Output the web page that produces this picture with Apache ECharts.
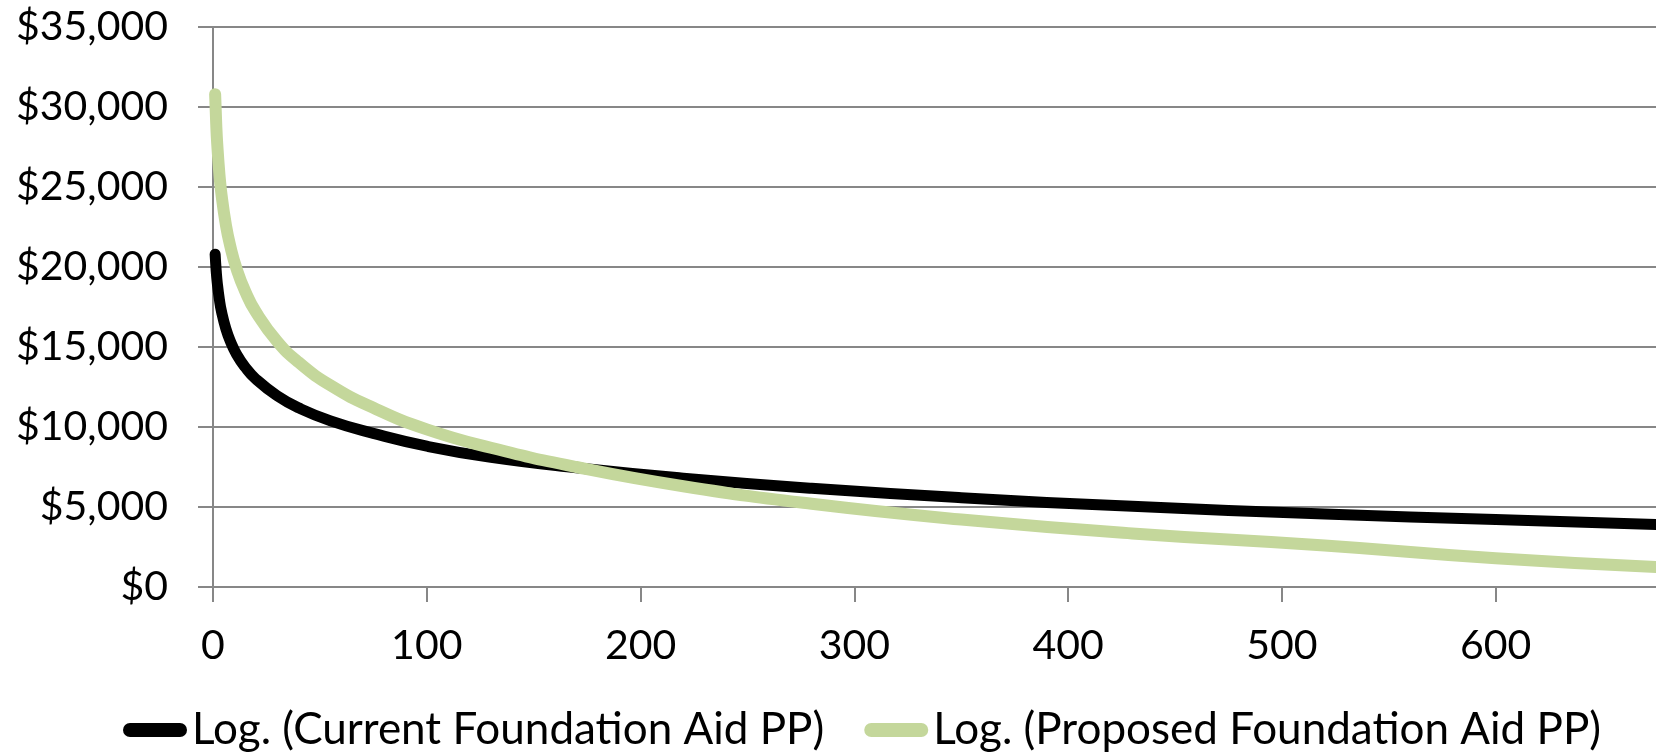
<!DOCTYPE html>
<html>
<head>
<meta charset="utf-8">
<script src="https://cdn.jsdelivr.net/npm/echarts@6/dist/echarts.min.js"></script>
<style>
  html, body { margin: 0; padding: 0; background: #fff; }
  #result { width: 1656px; height: 754px; }
</style>
</head>
<body>
<div id="result"></div>
<script>
// enrollment (x) and per-pupil aid values
var xValues = [1, 1.5, 2, 3, 4, 6, 8, 11, 15, 20, 30, 40, 55, 75, 100, 130, 170, 220, 280, 350, 430, 520, 600, 675];
var currentAid = [20800, 19750, 19000, 17950, 17200, 16150, 15400, 14550, 13750, 13000, 11950, 11200, 10380, 9600, 8800, 8100, 7450, 6800, 6170, 5580, 5040, 4560, 4220, 3900];
var proposedAid = [30800, 28950, 27650, 25800, 24500, 22650, 21350, 19900, 18500, 17200, 15350, 14050, 12600, 11200, 9850, 8700, 7500, 6300, 5200, 4220, 3350, 2600, 1800, 1250];
var seriesNames = ['Log. (Current Foundation Aid PP)', 'Log. (Proposed Foundation Aid PP)'];

function pairs(xs, ys) {
    return xs.map(function (x, i) { return [x, ys[i]]; });
}

var font = 'Lato';
var gray = '#878787';
var pill = 'path://M7,0 L57,0 A7,7 0 0 1 57,14 L7,14 A7,7 0 0 1 7,0 Z';

var myChart = echarts.init(document.getElementById('result'));

myChart.setOption({
    animation: false,
    textStyle: { fontFamily: font },
    grid: {
        left: 213,
        right: 0,
        top: 27,
        bottom: 167
    },
    legend: {
        left: 118,
        top: 703,
        itemWidth: 64,
        itemHeight: 15,
        itemGap: 40,
        textStyle: { fontFamily: font, fontSize: 44, color: '#000' },
        data: [
            { name: seriesNames[0], icon: pill },
            { name: seriesNames[1], icon: pill }
        ]
    },
    xAxis: {
        type: 'value',
        min: 0,
        max: 675,
        interval: 100,
        splitLine: { show: false },
        axisLine: { lineStyle: { color: gray, width: 2 } },
        axisTick: { show: true, length: 15, lineStyle: { color: gray, width: 2 } },
        axisLabel: {
            color: '#000',
            fontSize: 41,
            fontFamily: font,
            margin: 38,
            showMaxLabel: false
        }
    },
    yAxis: {
        type: 'value',
        min: 0,
        max: 35000,
        interval: 5000,
        axisLine: { show: true, lineStyle: { color: gray, width: 2 } },
        axisTick: { show: true, length: 15, lineStyle: { color: gray, width: 2 } },
        splitLine: { lineStyle: { color: gray, width: 2 } },
        axisLabel: {
            color: '#000',
            fontSize: 41,
            fontFamily: font,
            margin: 45,
            formatter: function (v) {
                return '$' + v.toLocaleString('en-US');
            }
        }
    },
    series: [
        {
            name: seriesNames[0],
            type: 'line',
            smooth: 0.5,
            showSymbol: false,
            itemStyle: { color: '#000000' },
            lineStyle: { color: '#000000', width: 11, cap: 'round', join: 'round' },
            data: pairs(xValues, currentAid)
        },
        {
            name: seriesNames[1],
            type: 'line',
            smooth: 0.5,
            showSymbol: false,
            itemStyle: { color: '#c4d79b' },
            lineStyle: { color: '#c4d79b', width: 12, cap: 'round', join: 'round' },
            data: pairs(xValues, proposedAid)
        }
    ]
});
</script>
</body>
</html>
